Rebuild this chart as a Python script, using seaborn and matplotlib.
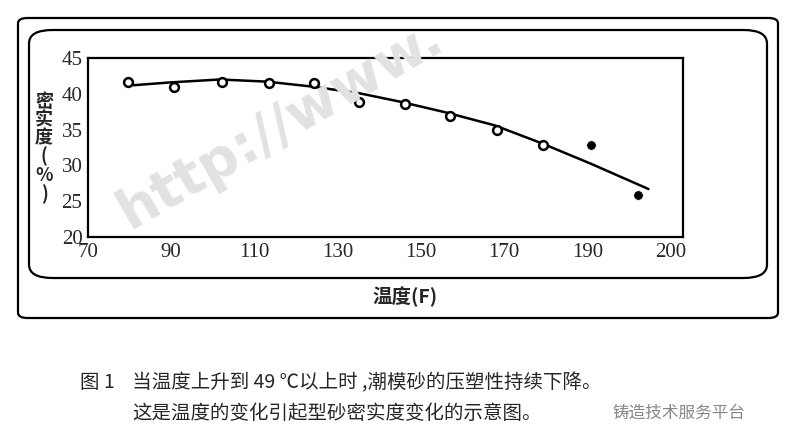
import matplotlib
matplotlib.use('Agg')
import matplotlib.pyplot as plt
import seaborn as sns
import pandas as pd
from matplotlib.patches import FancyBboxPatch

# data
temp_open = [79.5, 90.7, 102.2, 113.4, 124.3, 135.2, 146.1, 157.0, 168.4, 179.3]
dens_open = [41.6, 40.9, 41.6, 41.5, 41.5, 38.8, 38.6, 36.9, 34.9, 32.8]
temp_filled = [191.0, 202.2]
dens_filled = [32.8, 25.8]
curve_t = [81, 90, 101.7, 113, 124, 135, 145, 156, 167.7, 179, 191, 204.7]
curve_d = [41.2, 41.6, 42.0, 41.7, 41.0, 40.1, 38.9, 37.4, 35.6, 33.1, 30.2, 26.7]
tick_pos = [70, 90, 110, 130, 150, 170, 190, 210]
tick_lab = ['70', '90', '110', '130', '150', '170', '190', '200']
y_ticks = [20, 25, 30, 35, 40, 45]

sns.set_style('white')
plt.rcParams['font.family'] = ['Liberation Serif', 'Noto Sans CJK SC', 'DejaVu Sans']

fig = plt.figure(figsize=(7.89, 4.48), dpi=100)
ax = fig.add_axes([88/789, 1-237/448, 595/789, 179/448])
ax.set_facecolor('none')

curve = pd.DataFrame({'t': curve_t, 'd': curve_d})
sns.lineplot(data=curve, x='t', y='d', color='black', lw=1.8, ax=ax)
sns.scatterplot(x=temp_open, y=dens_open, facecolor='white', edgecolor='black',
                linewidth=1.8, s=40, ax=ax, zorder=3)
sns.scatterplot(x=temp_filled, y=dens_filled, color='black', s=48, ax=ax, zorder=3)

ax.set_xlim(70, 213)
ax.set_ylim(20, 45)
ax.set_xticks(tick_pos)
ax.set_xticklabels(tick_lab)
ax.set_yticks(y_ticks)
ax.tick_params(length=0, labelsize=15, pad=4)
for s in ax.spines.values():
    s.set_color('black')
    s.set_linewidth(1.6)
ax.set_xlabel('')
ax.set_ylabel('')

# frames around the chart
fig.patches.append(FancyBboxPatch((18/789, 1-318/448), 760/789, 300/448,
                                  boxstyle='round,pad=0,rounding_size=0.012',
                                  transform=fig.transFigure, fill=False, lw=1.6, ec='black'))
fig.patches.append(FancyBboxPatch((29/789, 1-278/448), 738/789, 248/448,
                                  boxstyle='round,pad=0,rounding_size=0.03',
                                  transform=fig.transFigure, fill=False, lw=1.6, ec='black'))

fig.text(405/789, 1-297/448, '温度(F)', ha='center', va='center', fontsize=14,
         fontweight='bold', family=['Noto Sans CJK SC', 'DejaVu Sans'])
fig.text(44/789, 1-148/448, '密\n实\n度\n(\n%\n)', ha='center', va='center',
         fontsize=13, fontweight='bold', linespacing=0.95,
         family=['Noto Sans CJK SC', 'DejaVu Sans'])

# watermark
fig.text(280/789, 1-125/448, 'http://www.', rotation=30, fontsize=40, color='#e2e2e2',
         ha='center', va='center', family='DejaVu Sans', fontweight='bold', zorder=0)

fig.text(80/789, 1-383/448, '图 1    当温度上升到 49 ℃以上时 ,潮模砂的压塑性持续下降。',
         fontsize=14, va='center', family=['Noto Sans CJK SC', 'DejaVu Sans'])
fig.text(132/789, 1-413/448, '这是温度的变化引起型砂密实度变化的示意图。',
         fontsize=14, va='center', family=['Noto Sans CJK SC', 'DejaVu Sans'])
fig.text(612/789, 1-413/448, '铸造技术服务平台', fontsize=12, va='center', color='#888888',
         family=['Noto Sans CJK SC', 'DejaVu Sans'])

fig.savefig('out.png', dpi=100)
